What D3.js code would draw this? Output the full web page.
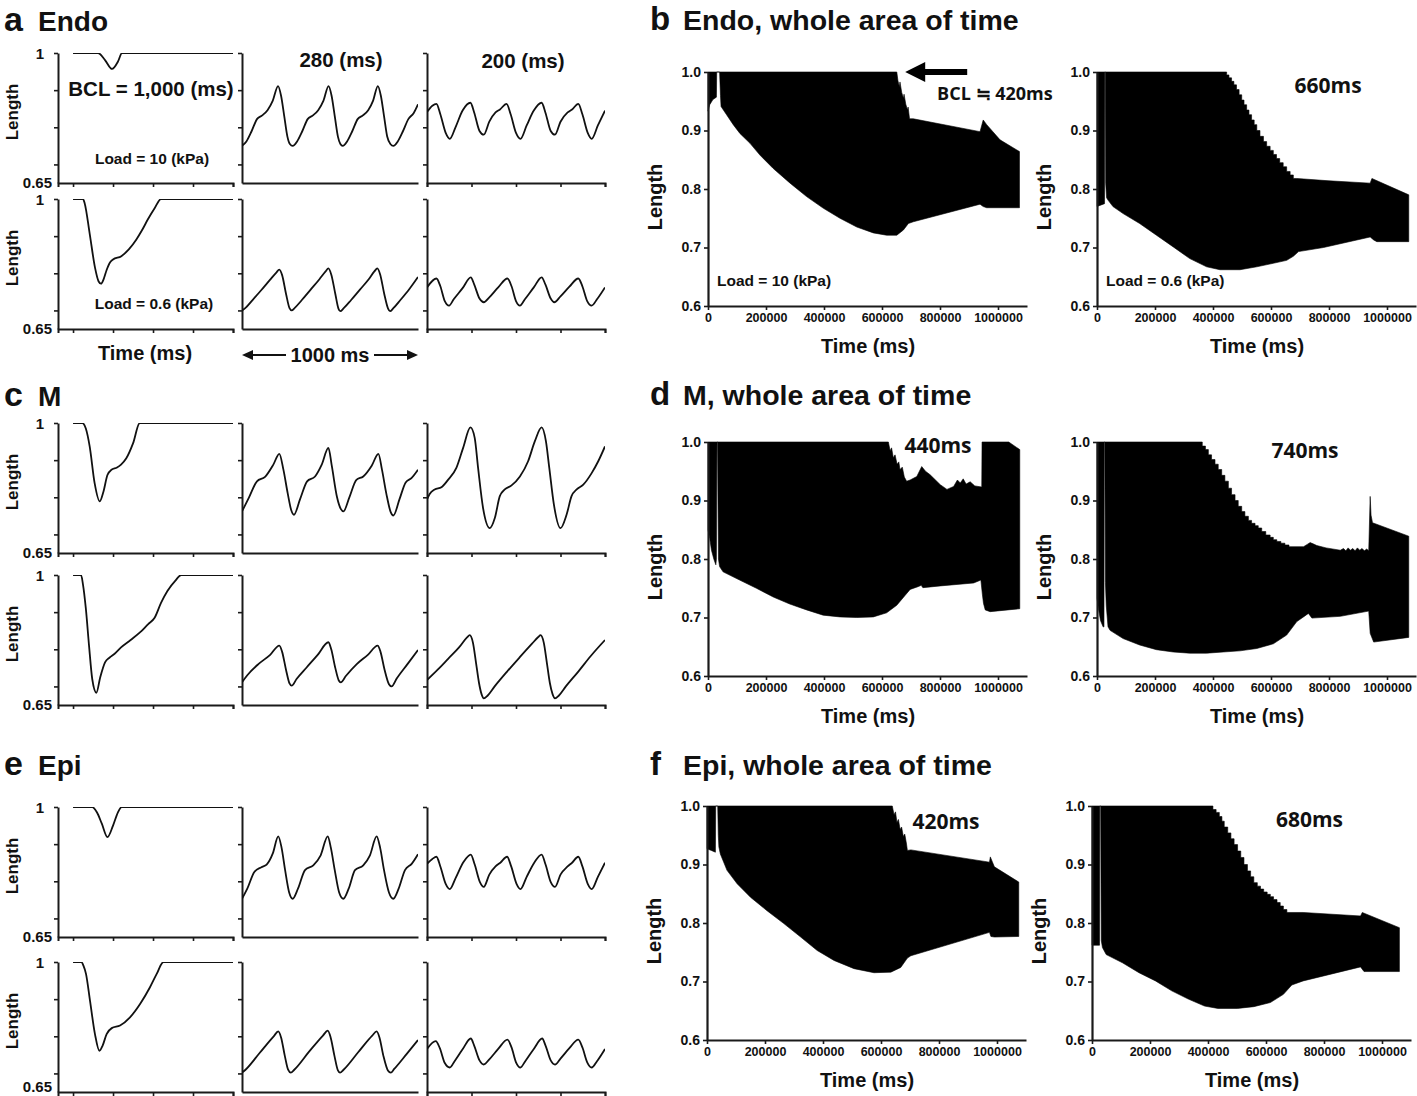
<!DOCTYPE html>
<html>
<head>
<meta charset="utf-8">
<script src="https://cdn.jsdelivr.net/npm/d3@7"></script>
<style>
  body { margin: 0; background: #fff; }
  svg { display: block; }
  text { font-family: "Liberation Sans", Arial, sans-serif; font-weight: bold; fill: #111; }
</style>
</head>
<body>
<div id="chart"></div>
<script>
// ---------- data (time in ms, length normalised) ----------
const cellTypes = ["Endo", "M", "Epi"];
const leftLetters = ["a", "c", "e"];
const rightLetters = ["b", "d", "f"];
const bclLabels = ["BCL = 1,000 (ms)", "280 (ms)", "200 (ms)"];
const loadLabels = ["Load = 10 (kPa)", "Load = 0.6 (kPa)"];
const smallYTicks = [0.7, 0.8, 0.9, 1];
const smallXTicks = [0, 250, 500, 750, 1000];
const bigYTicks = [0.6, 0.7, 0.8, 0.9, 1.0];
const bigXTicks = [0, 200, 400, 600, 800, 1000];          // thousands of ms
const bigXTickLabels = ["0", "200000", "400000", "600000", "800000", "1000000"];
const wholeBclLabels = [["BCL \u2252 420ms", "660ms"], ["440ms", "740ms"], ["420ms", "680ms"]];

// Endo
const endo10_1000 = [[0,1],[156,1],[200,0.981],[244,0.957],[281,0.977],[306,1],[1000,1]];
const endo10_280 = [[0,0.750],[25,0.762],[55,0.790],[85,0.822],[115,0.832],[145,0.846],[175,0.872],[205,0.911],[222,0.885],[240,0.830],[258,0.775],[272,0.755],
  [288,0.750],[313,0.762],[343,0.790],[373,0.822],[403,0.832],[433,0.846],[463,0.872],[492,0.911],[509,0.885],[527,0.830],[545,0.775],[559,0.755],
  [572,0.750],[597,0.762],[627,0.790],[657,0.822],[687,0.832],[717,0.846],[745,0.872],[772,0.911],[789,0.885],[807,0.830],[825,0.775],[843,0.755],
  [860,0.750],[885,0.762],[915,0.790],[945,0.822],[975,0.838],[1000,0.862]];
const endo10_200 = [[0,0.841],[30,0.858],[53,0.863],[75,0.835],[105,0.785],[128,0.769],[160,0.800],[200,0.845],[244,0.866],[265,0.840],[295,0.790],[319,0.780],
  [350,0.815],[385,0.840],[410,0.848],[447,0.863],[470,0.835],[500,0.785],[525,0.769],[560,0.805],[600,0.845],[644,0.866],[665,0.840],[695,0.790],[719,0.780],
  [750,0.815],[790,0.840],[815,0.848],[850,0.863],[873,0.835],[903,0.785],[925,0.769],[960,0.805],[1000,0.845]];
const endo06_1000 = [[0,1],[62,1],[73,0.988],[104,0.907],[137,0.816],[160,0.778],[175,0.772],[192,0.785],[210,0.809],[232,0.830],[250,0.837],[302,0.846],
  [350,0.865],[396,0.891],[430,0.915],[469,0.946],[510,0.975],[550,1],[1000,1]];
const endo06_280 = [[0,0.700],[20,0.707],[60,0.728],[110,0.755],[160,0.783],[195,0.802],[212,0.810],[228,0.795],[250,0.745],[270,0.706],[282,0.700],
  [300,0.707],[340,0.728],[390,0.756],[440,0.784],[475,0.805],[491,0.813],[507,0.797],[530,0.745],[548,0.705],[558,0.698],
  [578,0.706],[620,0.728],[670,0.756],[720,0.784],[752,0.805],[769,0.813],[785,0.797],[808,0.745],[830,0.705],[841,0.698],
  [860,0.706],[900,0.728],[950,0.757],[1000,0.790]];
const endo06_200 = [[0,0.762],[53,0.786],[75,0.765],[100,0.725],[124,0.713],[150,0.730],[200,0.760],[246,0.789],[265,0.770],[295,0.732],[319,0.722],
  [350,0.735],[400,0.762],[452,0.786],[475,0.765],[500,0.725],[522,0.713],[550,0.730],[600,0.762],[644,0.789],[665,0.770],[695,0.732],[715,0.722],
  [750,0.738],[800,0.764],[850,0.786],[873,0.765],[900,0.725],[925,0.713],[955,0.730],[1000,0.762]];

// M
const m10_1000 = [[0,1],[58,1],[80,0.985],[104,0.937],[135,0.838],[167,0.789],[190,0.815],[215,0.860],[240,0.874],[275,0.880],[300,0.888],[333,0.905],
  [375,0.945],[417,1],[1000,1]];
const m10_280 = [[0,0.762],[40,0.800],[85,0.843],[131,0.855],[178,0.888],[212,0.917],[235,0.875],[260,0.810],[280,0.765],[295,0.753],
  [330,0.795],[370,0.843],[415,0.856],[453,0.888],[491,0.933],[510,0.885],[540,0.800],[562,0.768],[576,0.762],
  [610,0.800],[650,0.847],[689,0.856],[737,0.885],[775,0.917],[795,0.875],[820,0.810],[845,0.760],[860,0.751],
  [895,0.795],[930,0.840],[964,0.852],[1000,0.874]];
const m10_200 = [[0,0.794],[15,0.809],[43,0.821],[81,0.827],[118,0.847],[165,0.879],[203,0.933],[244,0.988],[268,0.960],[287,0.879],[315,0.771],[353,0.717],
  [381,0.744],[409,0.803],[437,0.821],[475,0.832],[522,0.856],[568,0.897],[606,0.951],[644,0.988],[668,0.951],[687,0.879],[713,0.780],[750,0.717],
  [784,0.753],[812,0.803],[841,0.821],[878,0.834],[925,0.865],[962,0.897],[1000,0.937]];
const m06_1000 = [[0,1],[50,1],[62,0.975],[80,0.91],[100,0.81],[120,0.72],[146,0.683],[170,0.725],[200,0.765],[229,0.778],[260,0.788],[300,0.805],
  [360,0.825],[420,0.846],[470,0.868],[510,0.885],[550,0.925],[590,0.957],[640,0.985],[677,1],[1000,1]];
const m06_280 = [[0,0.711],[30,0.730],[93,0.760],[160,0.785],[212,0.810],[228,0.793],[250,0.745],[270,0.708],[282,0.702],
  [310,0.720],[367,0.751],[430,0.785],[491,0.819],[507,0.800],[530,0.750],[550,0.716],[561,0.711],
  [590,0.728],[652,0.760],[715,0.785],[771,0.810],[787,0.793],[810,0.745],[835,0.706],[850,0.700],
  [880,0.722],[940,0.760],[1000,0.798]];
const m06_200 = [[0,0.717],[60,0.745],[120,0.775],[180,0.805],[225,0.832],[240,0.838],[258,0.818],[275,0.765],[292,0.710],[306,0.680],[319,0.668],
  [340,0.675],[380,0.700],[450,0.740],[520,0.778],[590,0.815],[625,0.833],[638,0.838],[656,0.818],[673,0.765],[690,0.710],[705,0.680],[719,0.668],
  [740,0.675],[780,0.700],[850,0.740],[920,0.782],[1000,0.825]];

// Epi
const epi10_1000 = [[0,1],[120,1],[150,0.985],[180,0.955],[215,0.919],[250,0.950],[280,0.985],[304,1],[1000,1]];
const epi10_280 = [[0,0.753],[30,0.780],[70,0.825],[110,0.838],[140,0.845],[175,0.875],[206,0.921],[225,0.890],[245,0.830],[268,0.770],[288,0.753],
  [318,0.780],[358,0.830],[405,0.843],[447,0.870],[487,0.921],[505,0.890],[527,0.830],[552,0.770],[576,0.753],
  [606,0.780],[642,0.830],[689,0.843],[727,0.870],[765,0.921],[785,0.890],[807,0.830],[835,0.770],[860,0.753],
  [890,0.780],[926,0.830],[964,0.847],[1000,0.873]];
const epi10_200 = [[0,0.847],[30,0.860],[53,0.866],[75,0.840],[105,0.793],[128,0.779],[160,0.808],[205,0.852],[246,0.872],[268,0.845],[298,0.797],[319,0.785],
  [350,0.818],[385,0.840],[412,0.850],[450,0.866],[473,0.840],[503,0.793],[525,0.779],[560,0.812],[605,0.852],[644,0.872],[666,0.845],[696,0.797],[719,0.785],
  [750,0.818],[790,0.840],[815,0.850],[850,0.866],[873,0.840],[903,0.793],[925,0.779],[960,0.812],[1000,0.850]];
const epi06_1000 = [[0,1],[52,1],[65,0.99],[81,0.968],[106,0.896],[137,0.806],[165,0.761],[185,0.775],[210,0.806],[242,0.822],[294,0.829],[356,0.851],
  [419,0.887],[481,0.932],[523,0.968],[565,1],[1000,1]];
const epi06_280 = [[0,0.702],[20,0.710],[100,0.755],[180,0.800],[206,0.813],[222,0.797],[243,0.748],[262,0.710],[277,0.702],
  [297,0.710],[380,0.758],[460,0.802],[487,0.815],[503,0.798],[525,0.748],[545,0.708],[557,0.702],
  [577,0.710],[660,0.757],[740,0.802],[765,0.813],[781,0.797],[803,0.748],[830,0.707],[845,0.702],
  [865,0.712],[935,0.752],[1000,0.790]];
const epi06_200 = [[0,0.766],[49,0.787],[72,0.768],[100,0.728],[128,0.716],[155,0.733],[200,0.765],[246,0.794],[265,0.775],[295,0.735],[319,0.724],
  [350,0.738],[400,0.766],[452,0.791],[475,0.770],[500,0.730],[525,0.716],[552,0.733],[600,0.766],[647,0.794],[666,0.775],[695,0.735],[719,0.724],
  [750,0.740],[800,0.768],[850,0.791],[873,0.770],[900,0.730],[925,0.716],[955,0.733],[1000,0.766]];

// whole area of time: upper / lower envelopes (time in thousands of ms)
const endoWhole10Hi = [[0,1],[651,1],[655,0.985],[660,0.975],[662,0.983],[668,0.965],[674,0.955],[676,0.962],[682,0.945],[688,0.935],[690,0.940],
  [695,0.920],[708,0.920],[938,0.898],[949,0.918],[961,0.910],[1007,0.884],[1074,0.864]];
const endoWhole10Lo = [[0,0.933],[6,0.944],[17,0.953],[29,0.957],[30,1],[40,1],[43,0.960],[45,0.941],[64,0.927],[87,0.910],[110,0.895],[145,0.878],
  [179,0.858],[225,0.835],[283,0.810],[340,0.787],[398,0.767],[455,0.750],[513,0.735],[570,0.725],[616,0.721],[651,0.721],[674,0.730],[691,0.741],
  [708,0.744],[938,0.774],[949,0.770],[961,0.768],[1074,0.768]];
const endoWhole06Hi = [[0,1],[447,1],[447,0.995],[455,0.995],[455,0.990],[464,0.990],[464,0.984],[472,0.984],[472,0.978],[481,0.978],[481,0.970],
  [490,0.970],[490,0.961],[499,0.961],[499,0.952],[507,0.952],[507,0.944],[516,0.944],[516,0.935],[524,0.935],[524,0.927],[533,0.927],[533,0.918],
  [542,0.918],[542,0.910],[551,0.910],[551,0.900],[562,0.900],[562,0.890],[574,0.890],[574,0.881],[585,0.881],[585,0.873],[597,0.873],[597,0.866],
  [608,0.866],[608,0.859],[619,0.859],[619,0.852],[630,0.852],[630,0.845],[642,0.845],[642,0.838],[654,0.838],[654,0.830],[666,0.830],[666,0.824],
  [677,0.824],[677,0.818],[689,0.818],[800,0.814],[942,0.810],[948,0.818],[1075,0.790]];
const endoWhole06Lo = [[0,0.770],[10,0.772],[26,0.775],[27,1],[29,1],[30,0.810],[33,0.785],[38,0.781],[55,0.770],[90,0.758],[147,0.741],[205,0.721],
  [263,0.701],[320,0.681],[378,0.667],[424,0.662],[493,0.662],[551,0.667],[608,0.673],[654,0.678],[677,0.685],[695,0.693],[781,0.700],[942,0.718],
  [954,0.713],[965,0.710],[1075,0.710]];
const mWhole10Hi = [[0,1],[622,1],[628,0.985],[633,0.990],[639,0.973],[645,0.978],[652,0.962],[658,0.966],[662,0.953],[670,0.957],[677,0.940],
  [685,0.933],[697,0.935],[720,0.941],[737,0.958],[750,0.950],[766,0.944],[801,0.927],[824,0.919],[847,0.924],[860,0.935],[870,0.930],[880,0.937],
  [890,0.928],[904,0.932],[920,0.925],[944,0.923],[945,1],[1037,1],[1075,0.987]];
const mWhole10Lo = [[0,0.850],[6,0.835],[12,0.815],[20,0.800],[27,0.790],[29,0.800],[31,1],[33,1],[36,0.800],[40,0.787],[52,0.778],[109,0.764],
  [167,0.750],[225,0.735],[282,0.723],[340,0.713],[397,0.704],[455,0.701],[513,0.700],[570,0.701],[616,0.708],[651,0.721],[680,0.738],[697,0.748],
  [726,0.753],[735,0.755],[741,0.751],[801,0.754],[916,0.759],[941,0.764],[946,0.740],[950,0.724],[956,0.713],[973,0.710],[1075,0.715]];
const mWhole06Hi = [[0,1],[363,1],[363,0.993],[374,0.993],[374,0.987],[384,0.987],[384,0.978],[395,0.978],[395,0.970],[407,0.970],[407,0.962],
  [418,0.962],[418,0.953],[430,0.953],[430,0.943],[441,0.943],[441,0.933],[453,0.933],[453,0.921],[464,0.921],[464,0.910],[476,0.910],[476,0.900],
  [487,0.900],[487,0.890],[499,0.890],[499,0.881],[510,0.881],[510,0.873],[522,0.873],[522,0.866],[533,0.866],[533,0.861],[545,0.861],[545,0.857],
  [556,0.857],[556,0.853],[568,0.853],[568,0.847],[582,0.847],[582,0.841],[597,0.841],[597,0.837],[608,0.837],[608,0.833],[620,0.833],[620,0.830],
  [634,0.830],[634,0.827],[648,0.827],[648,0.824],[662,0.824],[662,0.821],[712,0.821],[725,0.825],[735,0.828],[745,0.826],[758,0.823],[790,0.819],
  [839,0.815],[850,0.818],[858,0.814],[866,0.819],[874,0.815],[882,0.818],[890,0.814],[898,0.819],[906,0.815],[914,0.818],[922,0.814],[930,0.817],
  [937,0.814],[942,0.907],[945,0.875],[950,0.862],[1075,0.839]];
const mWhole06Lo = [[0,0.733],[5,0.715],[12,0.695],[21,0.684],[24,0.684],[25,1],[27,1],[29,0.760],[32,0.720],[38,0.684],[45,0.678],[90,0.664],
  [147,0.653],[205,0.645],[263,0.641],[320,0.639],[378,0.639],[435,0.641],[493,0.643],[551,0.647],[608,0.655],[654,0.670],[689,0.693],[712,0.701],
  [729,0.707],[735,0.703],[741,0.699],[839,0.702],[937,0.711],[942,0.673],[954,0.658],[1075,0.666]];
const epiWhole10Hi = [[0,1],[639,1],[645,0.985],[650,0.990],[655,0.972],[660,0.977],[666,0.960],[671,0.964],[677,0.948],[682,0.952],[688,0.935],
  [691,0.924],[703,0.925],[974,0.904],[977,0.913],[991,0.896],[1075,0.870]];
const epiWhole10Lo = [[0,0.927],[15,0.924],[29,0.921],[30,1],[37,1],[39,0.950],[41,0.930],[46,0.918],[69,0.890],[104,0.867],[150,0.844],[207,0.821],
  [265,0.799],[323,0.776],[380,0.753],[438,0.736],[507,0.722],[576,0.715],[634,0.716],[668,0.724],[691,0.740],[703,0.744],[974,0.784],[979,0.777],
  [991,0.776],[1075,0.777]];
const epiWhole06Hi = [[0,1],[417,1],[417,0.994],[428,0.994],[428,0.989],[439,0.989],[439,0.982],[448,0.982],[448,0.974],[456,0.974],[456,0.964],
  [468,0.964],[468,0.954],[479,0.954],[479,0.944],[490,0.944],[490,0.934],[502,0.934],[502,0.923],[513,0.923],[513,0.912],[524,0.912],[524,0.900],
  [536,0.900],[536,0.889],[547,0.889],[547,0.879],[558,0.879],[558,0.869],[570,0.869],[570,0.863],[581,0.863],[581,0.858],[592,0.858],[592,0.853],
  [604,0.853],[604,0.849],[615,0.849],[615,0.845],[626,0.845],[626,0.840],[638,0.840],[638,0.835],[649,0.835],[649,0.829],[660,0.829],[660,0.823],
  [672,0.823],[672,0.818],[728,0.818],[926,0.812],[932,0.818],[1060,0.792]];
const epiWhole06Lo = [[0,0.762],[26,0.762],[27,1],[30,1],[32,0.770],[36,0.758],[49,0.746],[105,0.732],[162,0.715],[219,0.701],[275,0.684],[332,0.670],
  [388,0.658],[434,0.654],[502,0.654],[558,0.657],[615,0.664],[660,0.678],[689,0.694],[728,0.701],[926,0.725],[938,0.717],[1060,0.717]];

// ---------- layout ----------
const W = 1417, H = 1096;
const svg = d3.select("#chart").append("svg").attr("width", W).attr("height", H);
svg.append("rect").attr("width", W).attr("height", H).attr("fill", "#fff");

const smallSeries = [
  [[endo10_1000, endo10_280, endo10_200], [endo06_1000, endo06_280, endo06_200]],
  [[m10_1000, m10_280, m10_200], [m06_1000, m06_280, m06_200]],
  [[epi10_1000, epi10_280, epi10_200], [epi06_1000, epi06_280, epi06_200]]
];
const groupTops = [[53, 199], [423, 575], [807, 962]];
const groupTitleY = [31, 406, 775];
const smallH = 130;
const smallCols = [
  {left: 58, right: 233, domain: [-94, 1000], xTicks: true},
  {left: 242, right: 418, domain: [0, 1000], xTicks: false},
  {left: 427, right: 605, domain: [0, 1000], xTicks: true}
];

function styleAxis(g, width) {
  g.select(".domain").attr("stroke", "#1a1a1a").attr("stroke-width", width);
  g.selectAll(".tick line").attr("stroke", "#1a1a1a").attr("stroke-width", 1.6);
}

let clipCount = 0;
const defs = svg.append("defs");

smallSeries.forEach((grp, gi) => {
  // group heading
  svg.append("text").attr("x", 4).attr("y", groupTitleY[gi]).style("font-size", "34px").text(leftLetters[gi]);
  svg.append("text").attr("x", 38).attr("y", groupTitleY[gi]).style("font-size", "28px").text(cellTypes[gi]);

  grp.forEach((row, ri) => {
    const top = groupTops[gi][ri];
    const y = d3.scaleLinear().domain([0.65, 1]).range([top + smallH, top]);

    svg.append("text")
      .attr("transform", `translate(14,${top + smallH / 2 - 6}) rotate(-90)`)
      .attr("text-anchor", "middle").attr("dominant-baseline", "middle")
      .style("font-size", "17px").text("Length");
    svg.append("text").attr("x", 44).attr("y", top + 6).attr("text-anchor", "end").style("font-size", "15px").text("1");
    svg.append("text").attr("x", 52).attr("y", Math.min(top + smallH + 5, 1092)).attr("text-anchor", "end")
      .style("font-size", "15px").text("0.65");

    row.forEach((series, ci) => {
      const c = smallCols[ci];
      const x = d3.scaleLinear().domain(c.domain).range([c.left, c.right]);
      const g = svg.append("g");

      const ya = g.append("g").attr("transform", `translate(${c.left},0)`)
        .call(d3.axisLeft(y).tickValues(smallYTicks).tickSize(4).tickSizeOuter(0).tickFormat(""));
      styleAxis(ya, 2);

      const xAxis = d3.axisBottom(x).tickSizeOuter(0).tickFormat("");
      if (c.xTicks) xAxis.tickValues(smallXTicks).tickSize(4); else xAxis.tickValues([]);
      const xa = g.append("g").attr("transform", `translate(0,${top + smallH})`).call(xAxis);
      styleAxis(xa, 2);

      const id = "clip" + (clipCount++);
      defs.append("clipPath").attr("id", id).append("rect")
        .attr("x", x(0)).attr("y", top).attr("width", x(1000) - x(0)).attr("height", smallH);

      g.append("path").datum(series)
        .attr("clip-path", `url(#${id})`)
        .attr("fill", "none").attr("stroke", "#111").attr("stroke-width", 1.8)
        .attr("d", d3.line().x(d => x(d[0])).y(d => y(d[1])).curve(d3.curveMonotoneX));
    });
  });
});

// texts inside group a
svg.append("text").attr("x", 151).attr("y", 96).attr("text-anchor", "middle").style("font-size", "20.5px").text(bclLabels[0]);
svg.append("text").attr("x", 341).attr("y", 67).attr("text-anchor", "middle").style("font-size", "20.5px").text(bclLabels[1]);
svg.append("text").attr("x", 523).attr("y", 68).attr("text-anchor", "middle").style("font-size", "20.5px").text(bclLabels[2]);
svg.append("text").attr("x", 152).attr("y", 164).attr("text-anchor", "middle").style("font-size", "15.5px").text(loadLabels[0]);
svg.append("text").attr("x", 154).attr("y", 309).attr("text-anchor", "middle").style("font-size", "15.5px").text(loadLabels[1]);
svg.append("text").attr("x", 145).attr("y", 360).attr("text-anchor", "middle").style("font-size", "20px").text("Time (ms)");

// 1000 ms span arrows under the second column
{
  const c = smallCols[1];
  const yA = 355;
  svg.append("text").attr("x", (c.left + c.right) / 2).attr("y", 362).attr("text-anchor", "middle").style("font-size", "20px").text("1000 ms");
  const arrow = svg.append("g").attr("stroke", "#111").attr("stroke-width", 2).attr("fill", "#111");
  arrow.append("line").attr("x1", c.left + 6).attr("x2", c.left + 44).attr("y1", yA).attr("y2", yA);
  arrow.append("line").attr("x1", c.right - 44).attr("x2", c.right - 6).attr("y1", yA).attr("y2", yA);
  arrow.append("path").attr("stroke", "none")
    .attr("d", `M${c.left},${yA} L${c.left + 11},${yA - 5} L${c.left + 11},${yA + 5} Z`);
  arrow.append("path").attr("stroke", "none")
    .attr("d", `M${c.right},${yA} L${c.right - 11},${yA - 5} L${c.right - 11},${yA + 5} Z`);
}

// ---------- whole area of time panels ----------
const wholeSeries = [
  [[endoWhole10Hi, endoWhole10Lo], [endoWhole06Hi, endoWhole06Lo]],
  [[mWhole10Hi, mWhole10Lo], [mWhole06Hi, mWhole06Lo]],
  [[epiWhole10Hi, epiWhole10Lo], [epiWhole06Hi, epiWhole06Lo]]
];
const bigTops = [72, 442, 806];
const bigLefts = [[708, 1097], [708, 1097], [707, 1092]];
const bigTitleY = [30, 405, 775];
const bigH = 234;
const pxPerK = 0.29;
// where the BCL labels sit, in data units (thousand ms, length)
const bclLabelPos = [[[790, 0.961], [797, 0.973]], [[793, 0.99], [717, 0.983]], [[824, 0.971], [750, 0.973]]];

wholeSeries.forEach((grp, gi) => {
  svg.append("text").attr("x", 650).attr("y", bigTitleY[gi]).style("font-size", "33px").text(rightLetters[gi]);
  svg.append("text").attr("x", 683).attr("y", bigTitleY[gi]).style("font-size", "28.5px").text(cellTypes[gi] + ", whole area of time");

  grp.forEach((pair, ci) => {
    const x0 = bigLefts[gi][ci];
    const top = bigTops[gi];
    const x = d3.scaleLinear().domain([0, 1100]).range([x0, x0 + 1100 * pxPerK]);
    const y = d3.scaleLinear().domain([0.6, 1.0]).range([top + bigH, top]);
    const g = svg.append("g");

    const edge = d3.line().x(d => x(d[0])).y(d => y(d[1]));
    const [hi, lo] = pair;
    g.append("path")
      .attr("fill", "#000").attr("stroke", "#000").attr("stroke-width", 0.6)
      .attr("d", edge(hi) + "L" + edge(lo.slice().reverse()).slice(1) + "Z");

    const ya = g.append("g").attr("transform", `translate(${x0},0)`)
      .call(d3.axisLeft(y).tickValues(bigYTicks).tickFormat(d3.format(".1f")).tickSize(4).tickSizeOuter(0));
    styleAxis(ya, 2.2);
    ya.selectAll("text").attr("font-family", null).style("font-size", "14px").attr("x", -7);

    const xa = g.append("g").attr("transform", `translate(0,${top + bigH})`)
      .call(d3.axisBottom(x).tickValues(bigXTicks).tickFormat((d, i) => bigXTickLabels[i]).tickSize(4).tickSizeOuter(0));
    styleAxis(xa, 2.2);
    xa.selectAll("text").attr("font-family", null).style("font-size", "12.5px").attr("y", 7);

    svg.append("text")
      .attr("transform", `translate(${x0 - 51},${top + bigH / 2 + 8}) rotate(-90)`)
      .attr("text-anchor", "middle").attr("dominant-baseline", "middle")
      .style("font-size", "20px").text("Length");
    svg.append("text").attr("x", x0 + 160).attr("y", top + bigH + 47).attr("text-anchor", "middle")
      .style("font-size", "20px").text("Time (ms)");

    const pos = bclLabelPos[gi][ci];
    const first = gi === 0 && ci === 0;
    svg.append("text").attr("x", x(pos[0])).attr("y", y(pos[1]))
      .attr("text-anchor", first ? "start" : "middle")
      .attr("dominant-baseline", "middle")
      .style("font-family", "'Open Sans', 'Noto Sans CJK KR', sans-serif").style("font-weight", 700)
      .style("font-size", first ? "18px" : "21px")
      .text(wholeBclLabels[gi][ci]);

    if (gi === 0) {
      svg.append("text").attr("x", x0 + 9).attr("y", top + bigH - 20)
        .style("font-size", "15.5px").text(loadLabels[ci]);
    }
    if (first) {
      // arrow pointing at the step where BCL reaches 420 ms
      const tx = x(680), ty = y(1.0);
      g.append("path").attr("fill", "#000")
        .attr("d", `M${tx},${ty} L${tx + 20},${ty - 10} L${tx + 20},${ty - 3} L${tx + 62},${ty - 3} L${tx + 62},${ty + 3} L${tx + 20},${ty + 3} L${tx + 20},${ty + 10} Z`);
    }
  });
});
</script>
</body>
</html>
